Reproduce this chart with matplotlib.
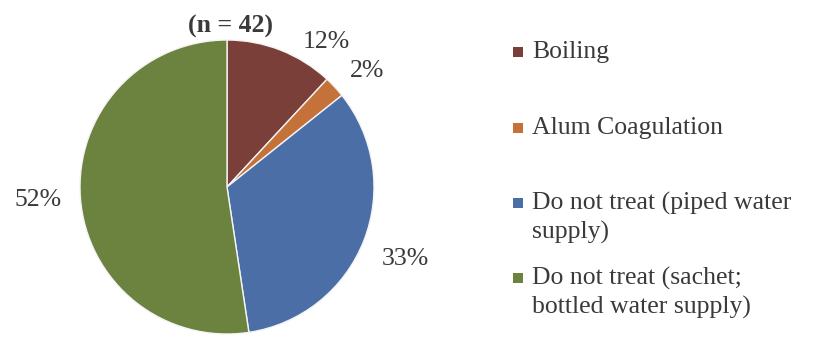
import numpy as np
import matplotlib.pyplot as plt
from matplotlib.patches import Rectangle

# Household water treatment responses (number of households)
categories = ["Boiling", "Alum Coagulation",
              "Do not treat (piped water\nsupply)",
              "Do not treat (sachet;\nbottled water supply)"]
counts = [5, 1, 14, 22]
colors = ["#7b3f3a", "#c4713a", "#4b6ea6", "#6c8340"]
title = "(n = 42)"

W, H, DPI = 817, 339, 100
fig = plt.figure(figsize=(W / DPI, H / DPI), dpi=DPI)
fig.patch.set_facecolor("white")
plt.rcParams["font.family"] = ["Liberation Serif", "DejaVu Serif"]
txt_color = "#3a3a3a"
fs = 18.5

# pie axes: centre (227, 187) px, radius 147 px
cx, cy, r = 227, 187, 147
ax = fig.add_axes([(cx - r) / W, (H - cy - r) / H, 2 * r / W, 2 * r / H])
wedges, _ = ax.pie(counts, colors=colors, startangle=90, counterclock=False,
                   radius=1.0,
                   wedgeprops=dict(edgecolor="#f4f4f4", linewidth=1.0))
ax.set_xlim(-1, 1)
ax.set_ylim(-1, 1)
ax.set_aspect("equal")
ax.axis("off")

total = sum(counts)
# percentage labels placed around the wedges
label_dist = [1.21, 1.25, 1.30, 1.29]
angle_shift = [-12.5, -2.5, 0.0, -1.0]
for w, c, d, s in zip(wedges, counts, label_dist, angle_shift):
    mid = np.deg2rad((w.theta1 + w.theta2) / 2 + s)
    ax.text(d * np.cos(mid), d * np.sin(mid), f"{round(100 * c / total)}%",
            ha="center", va="center_baseline", fontsize=fs, color=txt_color)

fig.text(231 / W, 1 - 24 / H, title, ha="center", va="center_baseline",
         fontsize=fs, fontweight="bold", color=txt_color)

# legend drawn as squares with wrapped labels
leg_y = [52, 128, 218, 293]
for cat, col, y in zip(categories, colors, leg_y):
    nlines = cat.count("\n") + 1
    top_line_y = y - (nlines - 1) * 15
    fig.patches.append(Rectangle((513 / W, 1 - (top_line_y + 5) / H),
                                 10 / W, 10 / H, transform=fig.transFigure,
                                 facecolor=col, edgecolor="none"))
    fig.text(532 / W, 1 - y / H, cat, ha="left", va="center",
             fontsize=fs, color=txt_color, linespacing=1.3)

fig.savefig("out.png", dpi=DPI, facecolor="white")
